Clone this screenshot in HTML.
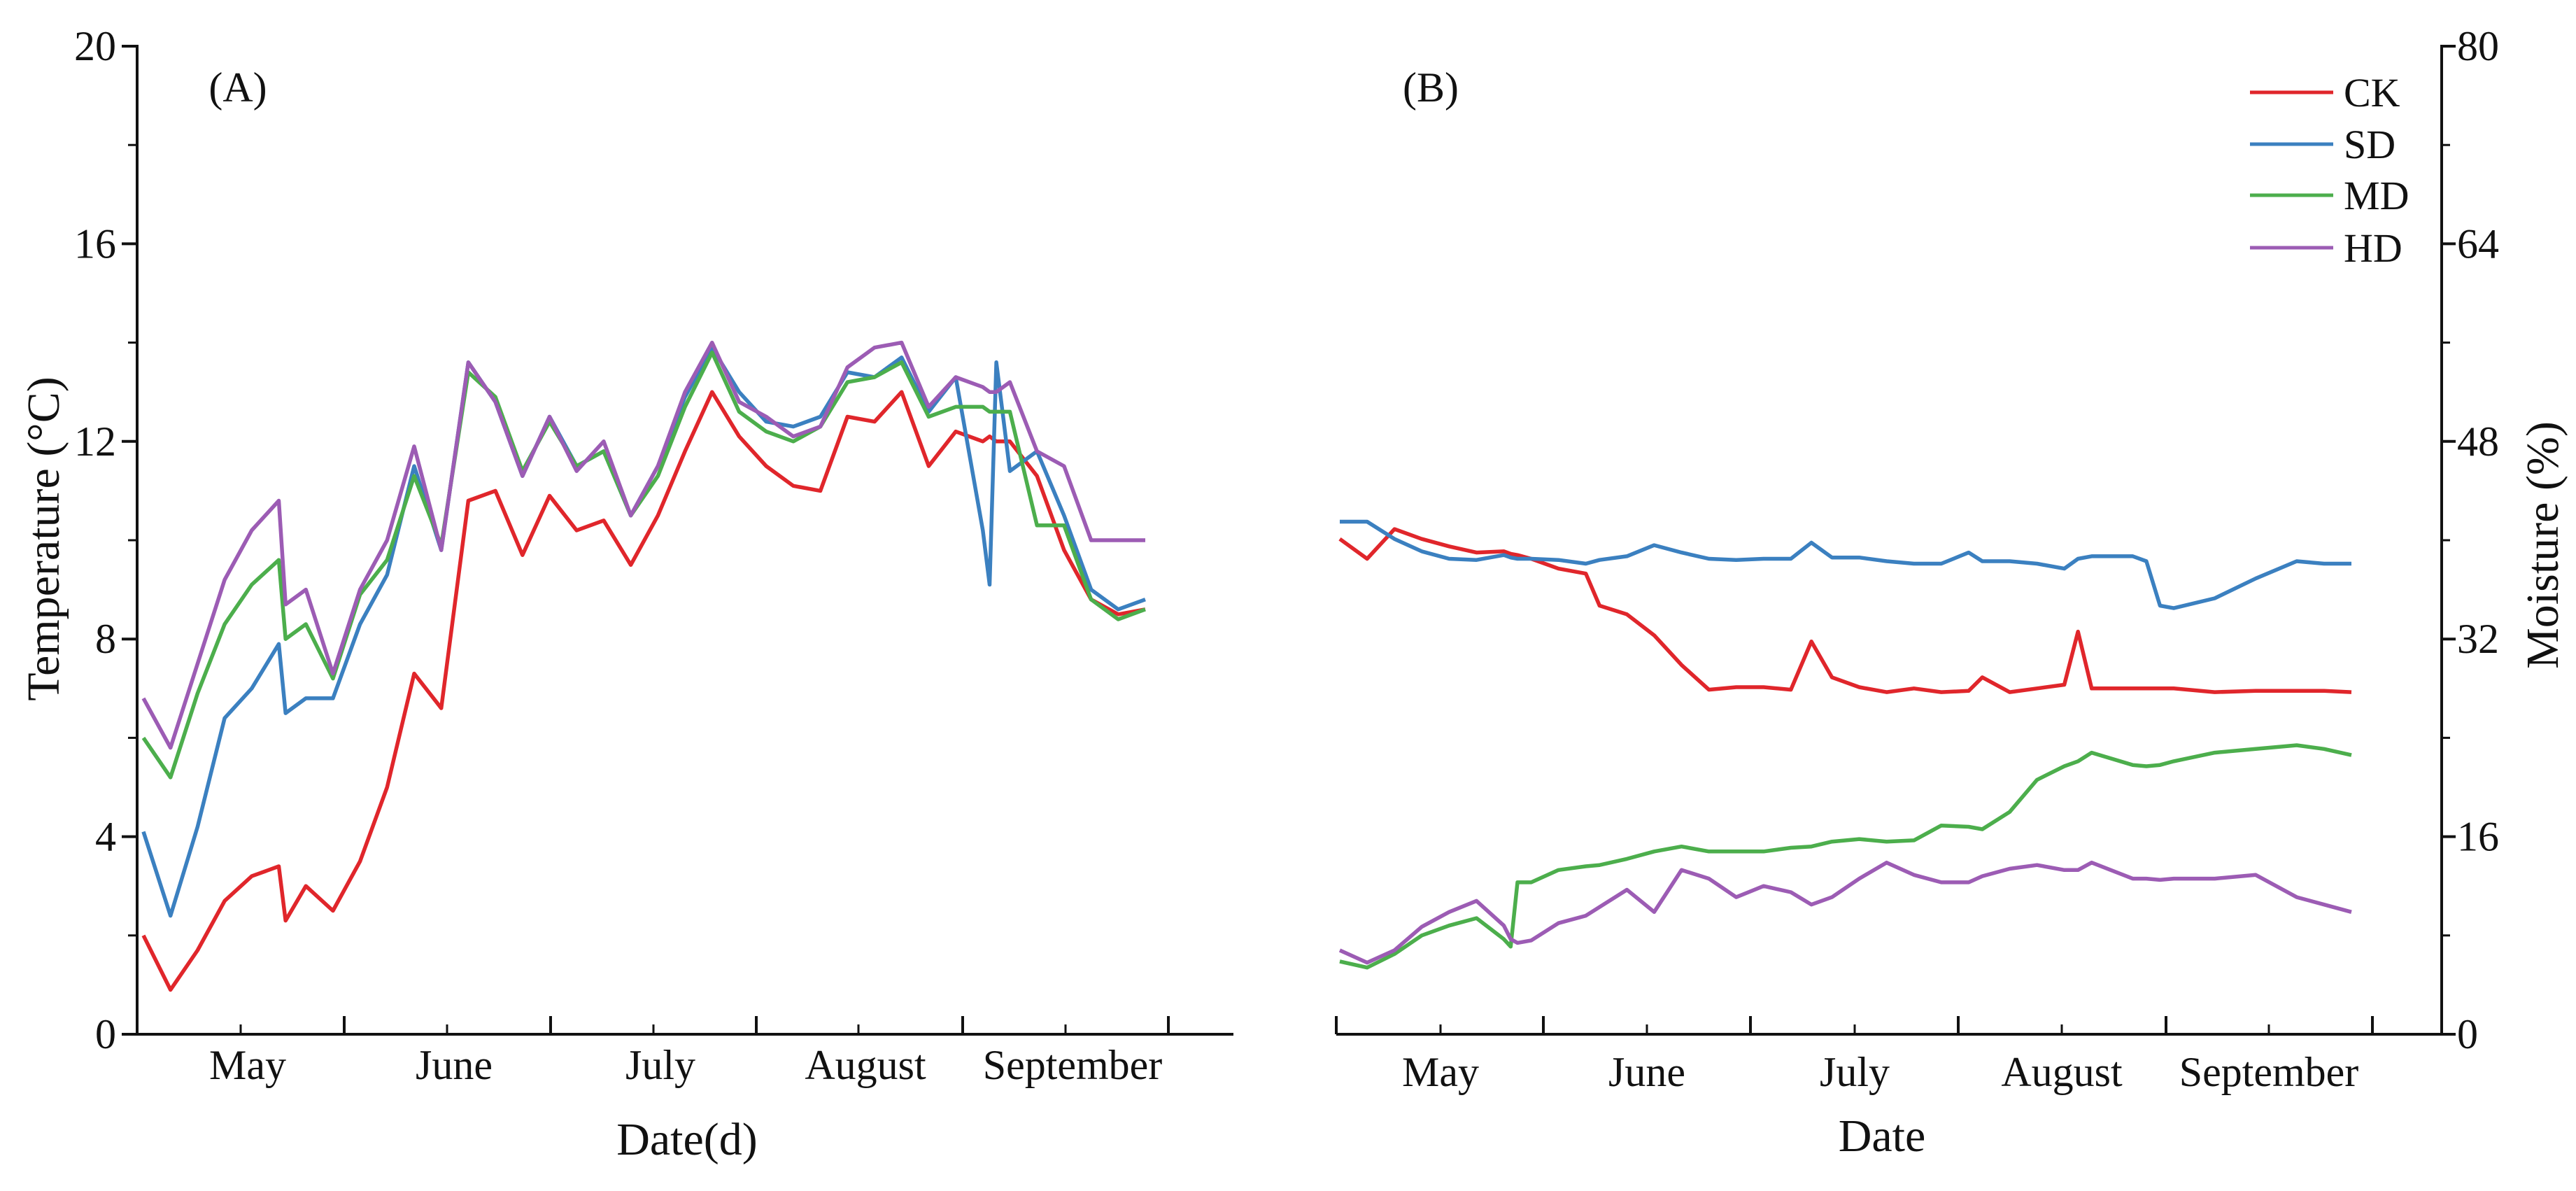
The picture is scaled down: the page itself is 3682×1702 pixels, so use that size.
<!DOCTYPE html>
<html><head><meta charset="utf-8"><style>
html,body{margin:0;padding:0;background:#fff;}
svg text{font-family:"Liberation Serif",serif;fill:#111;}
</style></head><body>
<svg id="chart" xmlns="http://www.w3.org/2000/svg" width="3682" height="1697" viewBox="0 0 3682 1697"></svg>
<script>
const monthLabels = ["May","June","July","August","September"];
const seriesNames = ["CK","SD","MD","HD"];
const tempTicks = [0,4,8,12,16,20];
const moistTicks = [0,16,32,48,64,80];
const daysA = [0,4,8,12,16,20,21,24,28,32,36,40,44,48,52,56,60,64,68,72,76,80,84,88,92,96,100,104,108,112,116,120,124,125,126,128,132,136,140,144,148];
const tempCK = [2.0,0.9,1.7,2.7,3.2,3.4,2.3,3.0,2.5,3.5,5.0,7.3,6.6,10.8,11.0,9.7,10.9,10.2,10.4,9.5,10.5,11.8,13.0,12.1,11.5,11.1,11.0,12.5,12.4,13.0,11.5,12.2,12.0,12.1,12.0,12.0,11.3,9.8,8.8,8.5,8.6];
const tempSD = [4.1,2.4,4.2,6.4,7.0,7.9,6.5,6.8,6.8,8.3,9.3,11.5,9.8,13.6,12.8,11.3,12.5,11.5,11.8,10.5,11.5,12.9,13.9,13.0,12.4,12.3,12.5,13.4,13.3,13.7,12.6,13.3,10.2,9.1,13.6,11.4,11.8,10.5,9.0,8.6,8.8];
const tempMD = [6.0,5.2,6.9,8.3,9.1,9.6,8.0,8.3,7.2,8.9,9.6,11.3,9.9,13.4,12.9,11.4,12.4,11.5,11.8,10.5,11.3,12.7,13.8,12.6,12.2,12.0,12.3,13.2,13.3,13.6,12.5,12.7,12.7,12.6,12.6,12.6,10.3,10.3,8.8,8.4,8.6];
const tempHD = [6.8,5.8,7.5,9.2,10.2,10.8,8.7,9.0,7.3,9.0,10.0,11.9,9.8,13.6,12.8,11.3,12.5,11.4,12.0,10.5,11.5,13.0,14.0,12.8,12.5,12.1,12.3,13.5,13.9,14.0,12.7,13.3,13.1,13.0,13.0,13.2,11.8,11.5,10.0,10.0,10.0];
const daysB = [0,4,8,12,16,20,24,25,26,28,32,36,38,42,46,50,54,58,62,66,69,72,76,80,84,88,92,94,98,102,106,108,110,116,118,120,122,128,134,140,144,148];
const moistCK = [40.1,38.5,40.9,40.1,39.5,39.0,39.1,38.9,38.8,38.5,37.7,37.3,34.7,34.0,32.3,29.9,27.9,28.1,28.1,27.9,31.8,28.9,28.1,27.7,28.0,27.7,27.8,28.9,27.7,28.0,28.3,32.6,28.0,28.0,28.0,28.0,28.0,27.7,27.8,27.8,27.8,27.7];
const moistSD = [41.5,41.5,40.1,39.1,38.5,38.4,38.8,38.6,38.5,38.5,38.4,38.1,38.4,38.7,39.6,39.0,38.5,38.4,38.5,38.5,39.8,38.6,38.6,38.3,38.1,38.1,39.0,38.3,38.3,38.1,37.7,38.5,38.7,38.7,38.3,34.7,34.5,35.3,36.9,38.3,38.1,38.1];
const moistMD = [5.9,5.4,6.5,8.0,8.8,9.4,7.7,7.1,12.3,12.3,13.3,13.6,13.7,14.2,14.8,15.2,14.8,14.8,14.8,15.1,15.2,15.6,15.8,15.6,15.7,16.9,16.8,16.6,18.0,20.6,21.7,22.1,22.8,21.8,21.7,21.8,22.1,22.8,23.1,23.4,23.1,22.6];
const moistHD = [6.8,5.8,6.8,8.7,9.9,10.8,8.8,7.7,7.4,7.6,9.0,9.6,10.3,11.7,9.9,13.3,12.6,11.1,12.0,11.5,10.5,11.1,12.6,13.9,12.9,12.3,12.3,12.8,13.4,13.7,13.3,13.3,13.9,12.6,12.6,12.5,12.6,12.6,12.9,11.1,10.5,9.9];

const colors = ["#e0262b","#3b80c0","#4cae4c","#9c5cb4"];
const NS = "http://www.w3.org/2000/svg";
const svg = document.getElementById("chart");
function mk(tag, attrs, parent){const e=document.createElementNS(NS,tag);for(const k in attrs)e.setAttribute(k,attrs[k]);(parent||svg).appendChild(e);return e;}

const Y0 = 1478, YTOP = 66;
const A = {ax:196, axEnd:1763, d0x:205, d1x:1637, max:20, majors:[196,492,787,1081,1376,1670], minors:[344,639,934,1227,1523]};
const B = {ax:1910, axEnd:3490, d0x:1915, d1x:3361, max:80, majors:[1910,2206,2502,2799,3096,3391], minors:[2059,2354,2651,2947,3243]};
function xA(d){return A.d0x + (A.d1x-A.d0x)*d/148;}
function yA(v){return Y0 - (Y0-YTOP)*v/A.max;}
function xB(d){return B.d0x + (B.d1x-B.d0x)*d/148;}
function yB(v){return Y0 - (Y0-YTOP)*v/B.max;}

const gA = mk("g",{});


const yaxA = mk("line",{x1:A.ax,y1:YTOP-2,x2:A.ax,y2:Y0,stroke:"#111","stroke-width":4},gA);


const xaxA = mk("line",{x1:A.ax-2,y1:Y0,x2:A.axEnd,y2:Y0,stroke:"#111","stroke-width":4},gA);


tempTicks.forEach((t,i)=>{
  const y=yA(t);
  mk("line",{x1:A.ax-22,y1:y,x2:A.ax,y2:y,stroke:"#111","stroke-width":4},gA);
  if(i<tempTicks.length-1){const ym=yA(t+2);mk("line",{x1:A.ax-13,y1:ym,x2:A.ax,y2:ym,stroke:"#111","stroke-width":3},gA);}
  const tx=mk("text",{x:A.ax-30,y:y+20,"font-size":60,"text-anchor":"end"},gA);
  tx.textContent=t;
  
  
});
A.majors.forEach(x=>mk("line",{x1:x,y1:Y0,x2:x,y2:Y0-26,stroke:"#111","stroke-width":4},gA));
A.minors.forEach((x,i)=>{
  mk("line",{x1:x,y1:Y0,x2:x,y2:Y0-14,stroke:"#111","stroke-width":3},gA);
  const tx=mk("text",{x:x+10,y:1542,"font-size":60,"text-anchor":"middle"},gA);
  tx.textContent=monthLabels[i];
  
  
});
let t=mk("text",{x:982,y:1650,"font-size":66,"text-anchor":"middle"},gA);t.textContent="Date(d)";


t=mk("text",{x:0,y:0,"font-size":66,"text-anchor":"middle",transform:"translate(84,770) rotate(-90)"},gA);t.textContent="Temperature (°C)";


t=mk("text",{x:340,y:145,"font-size":60,"text-anchor":"middle"},gA);t.textContent="(A)";



[tempCK,tempSD,tempMD,tempHD].forEach((vals,si)=>{
  const pts=vals.map((v,i)=>xA(daysA[i]).toFixed(1)+","+yA(v).toFixed(1)).join(" ");
  const p=mk("polyline",{points:pts,fill:"none",stroke:colors[si],"stroke-width":5.5,"stroke-linejoin":"round"},gA);
  
  
});

const gB = mk("g",{});


const yaxB = mk("line",{x1:B.axEnd,y1:YTOP-2,x2:B.axEnd,y2:Y0,stroke:"#111","stroke-width":4},gB);


const xaxB = mk("line",{x1:B.ax,y1:Y0,x2:B.axEnd+2,y2:Y0,stroke:"#111","stroke-width":4},gB);


moistTicks.forEach((tk,i)=>{
  const y=yB(tk);
  mk("line",{x1:B.axEnd,y1:y,x2:B.axEnd+20,y2:y,stroke:"#111","stroke-width":4},gB);
  if(i<moistTicks.length-1){const ym=yB(tk+8);mk("line",{x1:B.axEnd,y1:ym,x2:B.axEnd+12,y2:ym,stroke:"#111","stroke-width":3},gB);}
  const tx=mk("text",{x:B.axEnd+22,y:y+20,"font-size":60,"text-anchor":"start"},gB);
  tx.textContent=tk;
  
  
});
B.majors.forEach(x=>mk("line",{x1:x,y1:Y0,x2:x,y2:Y0-26,stroke:"#111","stroke-width":4},gB));
B.minors.forEach((x,i)=>{
  mk("line",{x1:x,y1:Y0,x2:x,y2:Y0-14,stroke:"#111","stroke-width":3},gB);
  const tx=mk("text",{x:x,y:1552,"font-size":60,"text-anchor":"middle"},gB);
  tx.textContent=monthLabels[i];
  
  
});
t=mk("text",{x:2690,y:1645,"font-size":66,"text-anchor":"middle"},gB);t.textContent="Date";


t=mk("text",{x:0,y:0,"font-size":66,"text-anchor":"middle",transform:"translate(3656,779) rotate(-90)"},gB);t.textContent="Moisture (%)";


t=mk("text",{x:2045,y:145,"font-size":60,"text-anchor":"middle"},gB);t.textContent="(B)";



[moistCK,moistSD,moistMD,moistHD].forEach((vals,si)=>{
  const pts=vals.map((v,i)=>xB(daysB[i]).toFixed(1)+","+yB(v).toFixed(1)).join(" ");
  const p=mk("polyline",{points:pts,fill:"none",stroke:colors[si],"stroke-width":5.5,"stroke-linejoin":"round"},gB);
  
  
});

const legendY=[132,206,279,354];
seriesNames.forEach((n,i)=>{
  const g=mk("g",{},gB);
  
  
  mk("line",{x1:3216,y1:legendY[i],x2:3335,y2:legendY[i],stroke:colors[i],"stroke-width":5},g);
  const tx=mk("text",{x:3350,y:legendY[i]+20,"font-size":58},g);
  tx.textContent=n;
});
</script>
</body></html>
